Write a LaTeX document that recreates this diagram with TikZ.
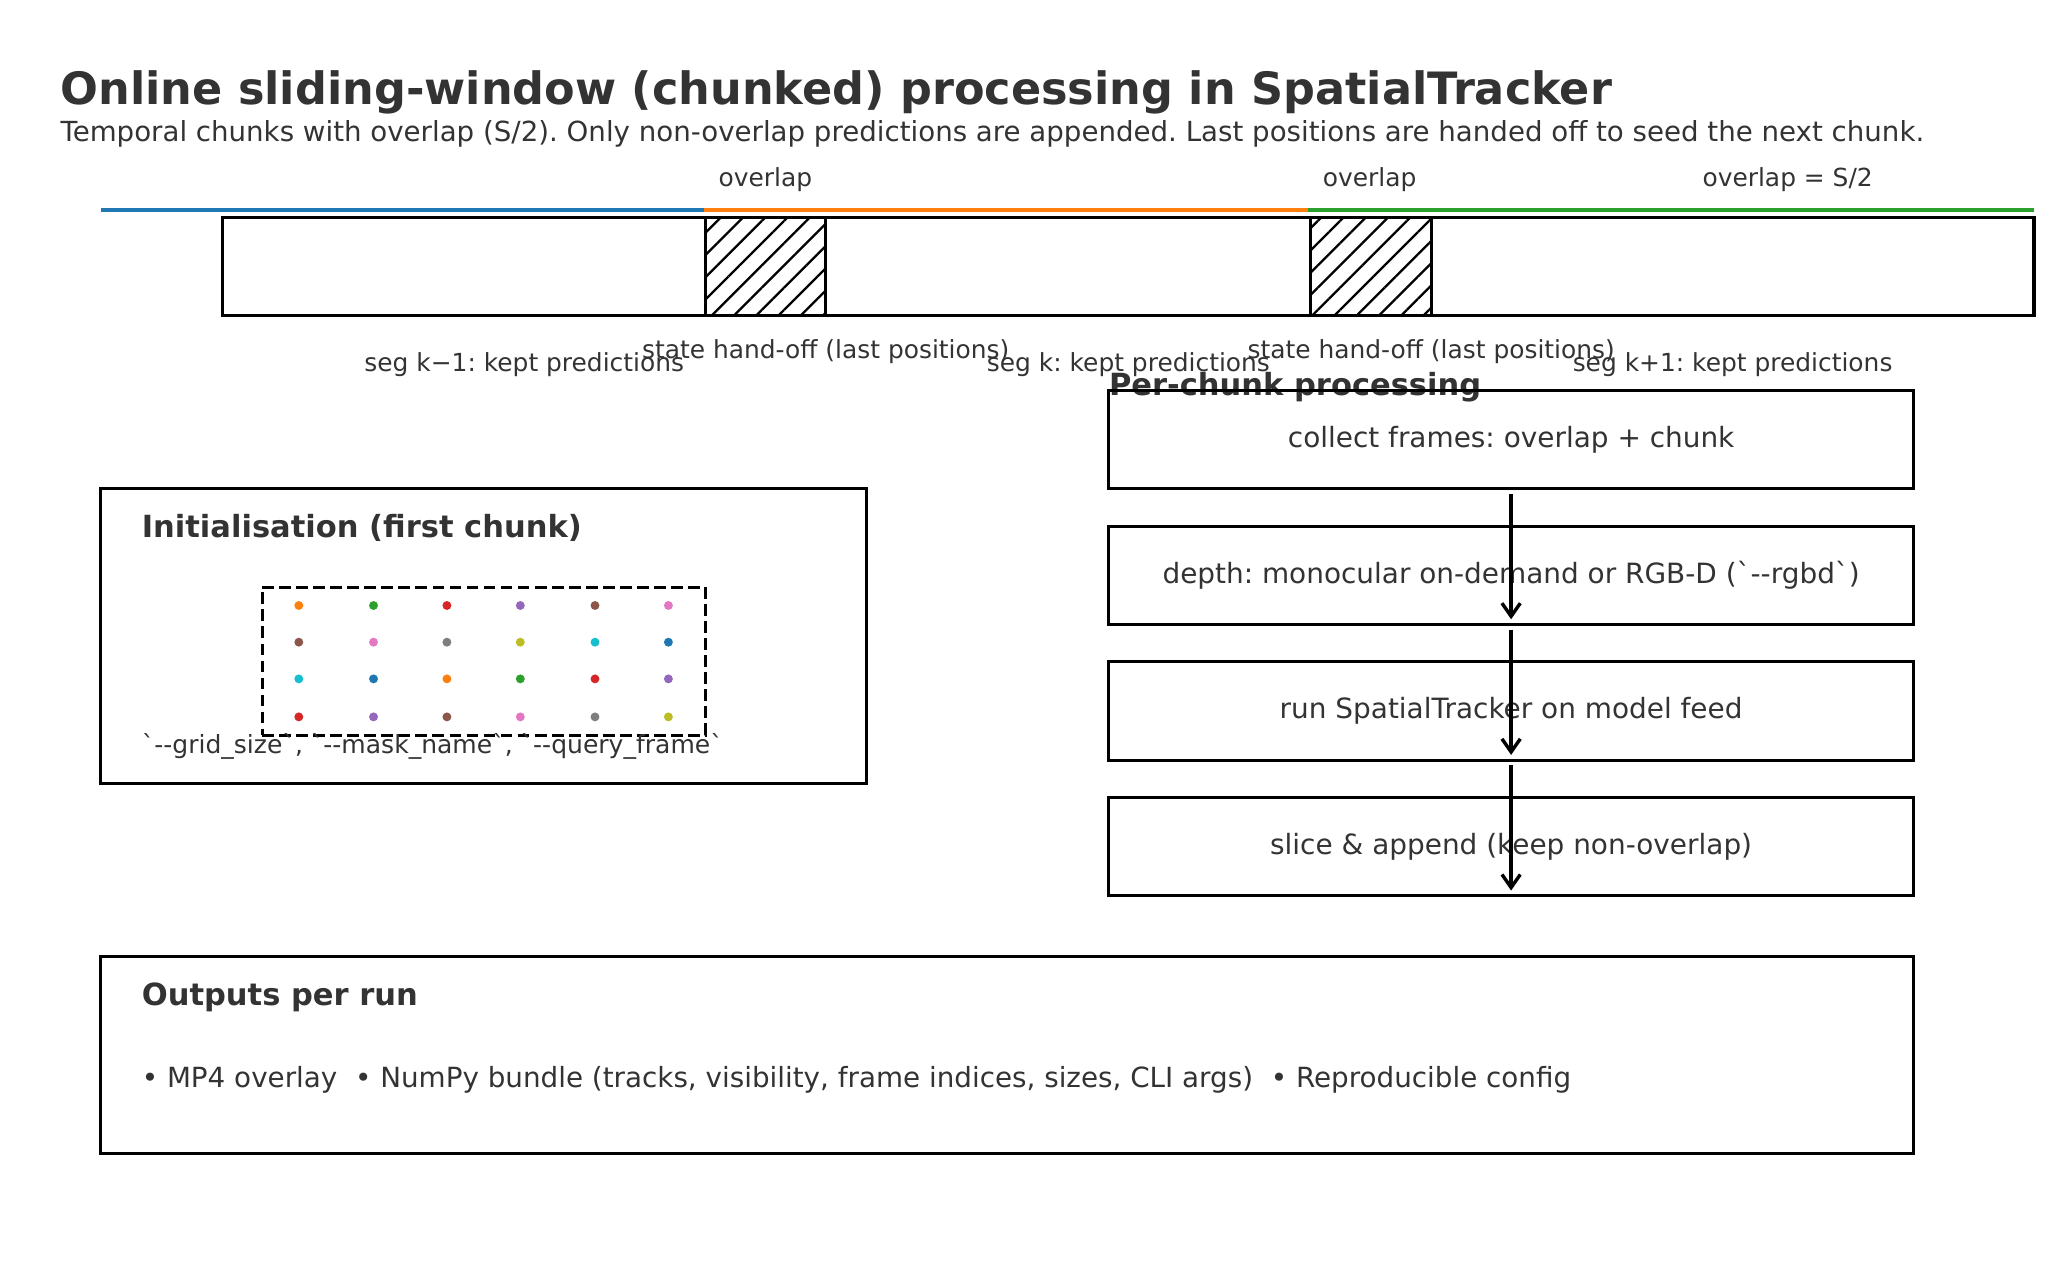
\documentclass[tikz,border=0pt]{standalone}
\usepackage{fontspec}
\setmainfont{DejaVu Sans}
\newfontfamily\codefont{DejaVu Sans}
\usetikzlibrary{positioning,patterns.meta,arrows.meta}
\frenchspacing

\definecolor{ink}{HTML}{333333}
\definecolor{tabblue}{HTML}{1F77B4}
\definecolor{taborange}{HTML}{FF7F0E}
\definecolor{tabgreen}{HTML}{2CA02C}
\definecolor{tabred}{HTML}{D62728}
\definecolor{tabpurple}{HTML}{9467BD}
\definecolor{tabbrown}{HTML}{8C564B}
\definecolor{tabpink}{HTML}{E377C2}
\definecolor{tabgray}{HTML}{7F7F7F}
\definecolor{tabolive}{HTML}{BCBD22}
\definecolor{tabcyan}{HTML}{17BECF}

\begin{document}
\begin{tikzpicture}[
x=1pt, y=-1pt,
every node/.style={text=ink},
title/.style={font=\bfseries\fontsize{34}{40}\selectfont, anchor=base west, inner sep=0pt},
subtitle/.style={font=\fontsize{21.1}{25}\selectfont, anchor=base west, inner sep=0pt},
heading/.style={font=\bfseries\fontsize{23.3}{28}\selectfont, anchor=base west, inner sep=0pt},
lbl/.style={font=\fontsize{19}{23}\selectfont, inner sep=0pt},
segline/.style={line width=3.2pt},
window/.style={draw=black, line width=2.4pt, inner sep=0pt, outer sep=0pt},
overlapbox/.style={draw=black, line width=2.4pt, inner sep=0pt, outer sep=0pt, minimum width=92pt, minimum height=75pt, pattern={Lines[angle=45, distance=12pt, line width=1.8pt]}},
panel/.style={draw=black, line width=2.4pt, inner sep=0pt, outer sep=0pt},
stepbox/.style={draw=black, line width=2.4pt, inner sep=0pt, outer sep=0pt, minimum width=614pt, minimum height=75pt, font=\fontsize{21.3}{25}\selectfont},
flow/.style={-{Straight Barb[length=10pt, width=14pt, line width=2.6pt]}, line width=2.6pt}]

\useasboundingbox (0,0) rectangle (1568,970.5);

\node[title] (title) at (46,80) {Online sliding-window (chunked) processing in SpatialTracker};
\node[subtitle] (subtitle) at (46,108) {Temporal chunks with overlap (S/2). Only non-overlap predictions are appended. Last positions are handed off to seed the next chunk.};

% timeline of chunks
\draw[segline, tabblue] (77,160) -- (537,160);
\draw[segline, taborange] (537,160) -- (998,160);
\draw[segline, tabgreen] (998,160) -- (1552,160);

\node[window, minimum width=1382pt, minimum height=75pt] (window) at (861,203.5) {};
\node[overlapbox] (ovA) at (584,203.5) {};
\node[overlapbox] (ovB) at (1046,203.5) {};

\node[lbl] (ovAlbl) at (584,137) {overlap};
\node[lbl] (ovBlbl) at (1045,137) {overlap};
\node[lbl] (ovSize) at (1364,137) {overlap = S/2};

\node[lbl] (handA) at (630,268) {state hand-off (last positions)};
\node[lbl] (handB) at (1092,268) {state hand-off (last positions)};

\node[lbl] (segA) at (400,278) {seg k−1: kept predictions};
\node[lbl] (segB) at (861,278) {seg k: kept predictions};
\node[lbl] (segC) at (1322,278) {seg k+1: kept predictions};

% initialisation panel
\node[panel, minimum width=584pt, minimum height=225pt] (init) at (369,485.5) {};
\node[heading] (initTitle) at (108,410) {Initialisation (first chunk)};
\node[panel, dash pattern=on 9pt off 4pt, minimum width=338pt, minimum height=113pt] (grid) at (369,504.5) {};
\foreach \x/\c in {228/taborange, 285/tabgreen, 341/tabred, 397/tabpurple, 454/tabbrown, 510/tabpink}
  \fill[\c] (\x,462) circle (3.4pt);
\foreach \x/\c in {228/tabbrown, 285/tabpink, 341/tabgray, 397/tabolive, 454/tabcyan, 510/tabblue}
  \fill[\c] (\x,490) circle (3.4pt);
\foreach \x/\c in {228/tabcyan, 285/tabblue, 341/taborange, 397/tabgreen, 454/tabred, 510/tabpurple}
  \fill[\c] (\x,518) circle (3.4pt);
\foreach \x/\c in {228/tabred, 285/tabpurple, 341/tabbrown, 397/tabpink, 454/tabgray, 510/tabolive}
  \fill[\c] (\x,547) circle (3.4pt);
\node[lbl, anchor=base west, font=\fontsize{19.1}{23}\selectfont] (initArgs) at (108,575) {\codefont `--grid\_size`, `--mask\_name`, `--query\_frame`};

% per-chunk steps
\node[heading] (stepsTitle) at (846,302) {Per-chunk processing};
\node[stepbox] (collect) at (1153,335.5) {collect frames: overlap + chunk};
\node[stepbox] (depth) [below=28.5pt of collect] {\codefont depth: monocular on-demand or RGB-D (`--rgbd`)};
\node[stepbox] (run) [below=28.5pt of depth] {run SpatialTracker on model feed};
\node[stepbox] (slice) [below=28.5pt of run] {slice \& append (keep non-overlap)};

\draw[flow] ([yshift=-4pt]collect.south) -- ([yshift=4pt]depth.south);
\draw[flow] ([yshift=-4pt]depth.south) -- ([yshift=4pt]run.south);
\draw[flow] ([yshift=-4pt]run.south) -- ([yshift=4pt]slice.south);

% outputs
\node[panel, minimum width=1383pt, minimum height=150pt] (outputs) at (768.5,805) {};
\node[heading] (outTitle) at (108,767) {Outputs per run};
\node[subtitle, font=\fontsize{21.2}{25}\selectfont] (outList) at (108,830) {• MP4 overlay \ • NumPy bundle (tracks, visibility, frame indices, sizes, CLI args) \ • Reproducible config};
\end{tikzpicture}
\end{document}
